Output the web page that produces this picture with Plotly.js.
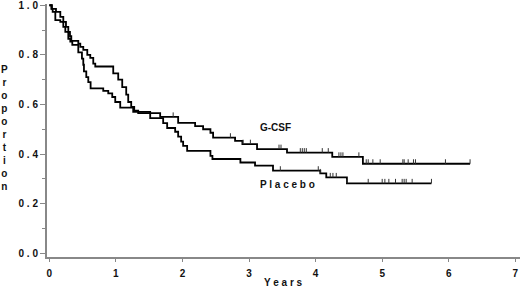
<!DOCTYPE html>
<html>
<head>
<meta charset="utf-8">
<script src="https://cdn.plot.ly/plotly-3.0.1.min.js"></script>
<style>html,body{margin:0;padding:0;background:#fff}#chart{width:520px;height:294px}</style>
</head>
<body>
<div id="chart"></div>
<script>
// Kaplan-Meier step data (time in years, survival proportion after each step)
const gcsfTimes = [0, 0.04, 0.10, 0.165, 0.21, 0.25, 0.285, 0.31, 0.33, 0.435, 0.465, 0.51, 0.57, 0.615, 0.66, 0.69,
  0.96, 1.035, 1.095, 1.155, 1.185, 1.23, 1.275, 1.335, 1.665, 1.935, 2.19, 2.31, 2.42, 2.46, 2.79, 2.90, 3.12, 3.57, 4.25, 4.71, 6.32];
const gcsfSurv = [1.0, 0.985, 0.973, 0.953, 0.933, 0.913, 0.893, 0.875, 0.856, 0.845, 0.832, 0.82, 0.80, 0.788, 0.765, 0.753,
  0.725, 0.70, 0.67, 0.64, 0.61, 0.59, 0.575, 0.565, 0.55, 0.526, 0.513, 0.50, 0.486, 0.466, 0.453, 0.44, 0.42, 0.406, 0.389, 0.361, 0.361];
const placeboTimes = [0, 0.03, 0.05, 0.09, 0.165, 0.21, 0.24, 0.285, 0.315, 0.345, 0.435, 0.49, 0.51, 0.52, 0.555, 0.585, 0.62,
  0.81, 0.885, 0.945, 0.99, 1.065, 1.26, 1.515, 1.71, 1.77, 1.89, 1.935, 1.98, 2.01, 2.07, 2.42, 2.45, 2.87, 3.09, 3.36, 4.07, 4.16, 4.47, 5.74];
const placeboSurv = [1.0, 0.985, 0.973, 0.94, 0.933, 0.913, 0.893, 0.865, 0.853, 0.84, 0.81, 0.785, 0.76, 0.733, 0.71, 0.69, 0.665,
  0.655, 0.645, 0.63, 0.61, 0.587, 0.57, 0.545, 0.525, 0.505, 0.49, 0.47, 0.45, 0.433, 0.413, 0.393, 0.38, 0.366, 0.353, 0.333, 0.322, 0.306, 0.282, 0.282];
// censoring times (years)
const gcsfCensor = [1.86, 2.72, 2.91, 3.02, 3.45, 3.48, 3.77, 3.80, 3.83, 3.86, 4.10, 4.19, 4.35, 4.38, 4.41, 4.65,
  4.76, 4.79, 4.86, 4.97, 5.31, 5.33, 5.39, 5.47, 5.50, 5.95, 6.32];
const placeboCensor = [3.47, 4.04, 4.07, 4.22, 4.26, 4.31, 4.47, 4.79, 5.0, 5.04, 5.10, 5.20, 5.30, 5.33, 5.36, 5.45, 5.74];
const yTicks = [0, 0.2, 0.4, 0.6, 0.8, 1.0];
const yTickText = ['0 . 0', '0 . 2', '0 . 4', '0 . 6', '0 . 8', '1 . 0'];
const xTicks = [0, 1, 2, 3, 4, 5, 6, 7];
const xTickText = ['0', '1', '2', '3', '4', '5', '6', '7'];

function survAt(times, surv, t) {
  let s = surv[0];
  for (let i = 0; i < times.length; i++) { if (times[i] <= t + 1e-9) s = surv[i]; }
  return s;
}
function censorTrace(ct, times, surv) {
  return {
    x: ct, y: ct.map(t => survAt(times, surv, t)), type: 'scatter', mode: 'markers',
    marker: {size: 1, color: 'rgba(0,0,0,0)'}, hoverinfo: 'skip', showlegend: false,
    error_y: {type: 'data', symmetric: false, array: ct.map(() => 0.018), arrayminus: ct.map(() => 0),
      width: 0, thickness: 1, color: '#333'}
  };
}
const font = {family: 'Liberation Sans, Arial, sans-serif', size: 10, color: '#111', weight: 'bold'};
const data = [
  {x: gcsfTimes, y: gcsfSurv, type: 'scatter', mode: 'lines', line: {shape: 'hv', color: '#000', width: 1.8}, showlegend: false},
  {x: placeboTimes, y: placeboSurv, type: 'scatter', mode: 'lines', line: {shape: 'hv', color: '#000', width: 1.8}, showlegend: false},
  censorTrace(gcsfCensor, gcsfTimes, gcsfSurv),
  censorTrace(placeboCensor, placeboTimes, placeboSurv)
];
const layout = {
  width: 520, height: 294,
  margin: {l: 47, r: 0, t: 4, b: 37},
  paper_bgcolor: '#fff', plot_bgcolor: '#fff',
  font: font,
  xaxis: {range: [-0.035, 7.07], tickmode: 'array', tickvals: xTicks, ticktext: xTickText,
    showgrid: false, zeroline: false, showline: true, linecolor: '#888', linewidth: 2,
    ticks: 'outside', ticklen: 3, tickcolor: '#888', tickwidth: 1, tickfont: font,
    ticklabelstandoff: 3, ticklabeloverflow: 'allow'},
  yaxis: {range: [-0.015, 1.005], tickmode: 'array', tickvals: yTicks, ticktext: yTickText,
    showgrid: false, zeroline: false, showline: true, linecolor: '#888', linewidth: 2,
    ticks: 'outside', ticklen: 5, tickcolor: '#888', tickwidth: 1, tickfont: font,
    ticklabeloverflow: 'allow',
    minor: {dtick: 0.1, tick0: 0, ticklen: 3, tickcolor: '#888', ticks: 'outside'}},
  annotations: [
    {text: 'G-CSF', x: 3.39, y: 0.507, xref: 'x', yref: 'y', showarrow: false, font: font},
    {text: 'P l a c e b o', x: 3.57, y: 0.277, xref: 'x', yref: 'y', showarrow: false, font: font},
    {text: 'Y e a r s', xref: 'paper', yref: 'paper', x: 0.499, y: -0.102, yanchor: 'middle', showarrow: false, font: font},
    {text: 'P<br>r<br>o<br>p<br>o<br>r<br>t<br>i<br>o<br>n', xref: 'paper', yref: 'paper', x: -0.089, y: 0.508,
      xanchor: 'center', yanchor: 'middle', showarrow: false, font: font}
  ]
};
Plotly.newPlot('chart', data, layout, {displayModeBar: false, staticPlot: true});
</script>
</body>
</html>
